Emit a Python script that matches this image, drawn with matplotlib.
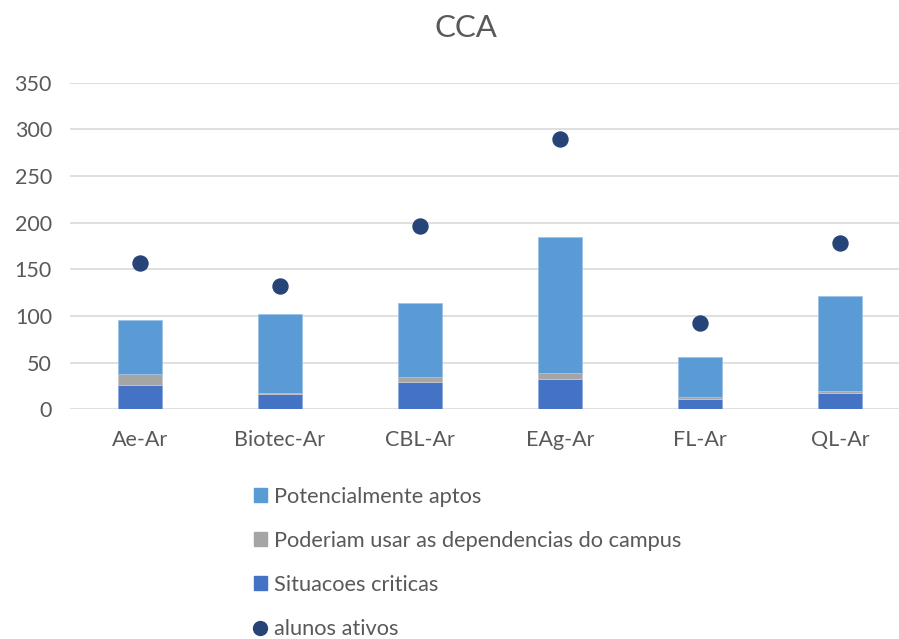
import matplotlib
matplotlib.use("Agg")
import matplotlib.pyplot as plt
import matplotlib.patches as mpatches
from matplotlib.lines import Line2D
import numpy as np

categories = ["Ae-Ar", "Biotec-Ar", "CBL-Ar", "EAg-Ar", "FL-Ar", "QL-Ar"]
criticas = [26, 16, 29, 32, 11, 18]
dependencias = [12, 1, 6, 7, 2, 2]
aptos = [58, 85, 79, 146, 43, 101]
alunos_ativos = [157, 132, 196, 290, 93, 178]

C_APTOS = "#5B9BD5"
C_DEP = "#A5A5A5"
C_CRIT = "#4472C4"
C_DOT = "#264478"
TXT = "#595959"

plt.rcParams["font.family"] = ["Lato", "DejaVu Sans"]

W, H = 899, 639
fig = plt.figure(figsize=(W / 100, H / 100), dpi=100)
# plot area: x 70..910 px, y(0)=409.3, y(350)=82.7
ax = fig.add_axes([70 / W, (H - 409.3) / H, 840 / W, 326.6 / H])

x = np.arange(len(categories))
width = 0.314
crit = np.array(criticas)
dep = np.array(dependencias)
apt = np.array(aptos)

ax.bar(x, crit, width, color=C_CRIT, edgecolor="#8FAADC", linewidth=0.6, zorder=2)
ax.bar(x, dep, width, bottom=crit, color=C_DEP, edgecolor="#C9C9C9", linewidth=0.6, zorder=2)
ax.bar(x, apt, width, bottom=crit + dep, color=C_APTOS, edgecolor="#9DC3E6", linewidth=0.6, zorder=2)
ax.plot(x, alunos_ativos, "o", color=C_DOT, markersize=10.8, zorder=3)

ax.set_xlim(-0.5, len(categories) - 0.5)
ax.set_ylim(0, 350)
ax.set_yticks(range(0, 351, 50))
ax.set_xticks(x)
ax.set_xticklabels(categories)
ax.grid(axis="y", color="#D9D9D9", linewidth=1.2, zorder=0)
ax.set_axisbelow(True)
for s in ax.spines.values():
    s.set_visible(False)
ax.tick_params(axis="both", length=0, colors=TXT, labelsize=15.5)
ax.tick_params(axis="y", pad=13)
ax.tick_params(axis="x", pad=15)

fig.text(466 / W, 1 - 28 / H, "CCA", ha="center", va="center", fontsize=22.5, color=TXT)

handles = [
    mpatches.Patch(color=C_APTOS, label="Potencialmente aptos"),
    mpatches.Patch(color=C_DEP, label="Poderiam usar as dependencias do campus"),
    mpatches.Patch(color=C_CRIT, label="Situacoes criticas"),
    Line2D([], [], marker="o", linestyle="none", color=C_DOT, markersize=10, label="alunos ativos"),
]
leg = fig.legend(handles=handles, loc="upper left", bbox_to_anchor=(243 / W, 1 - 476 / H),
                 frameon=False, fontsize=15.7, handlelength=0.6, handleheight=0.6,
                 handletextpad=0.3, labelspacing=1.1, borderpad=0)
for t in leg.get_texts():
    t.set_color(TXT)

fig.savefig("out.png", dpi=100, facecolor="white")
